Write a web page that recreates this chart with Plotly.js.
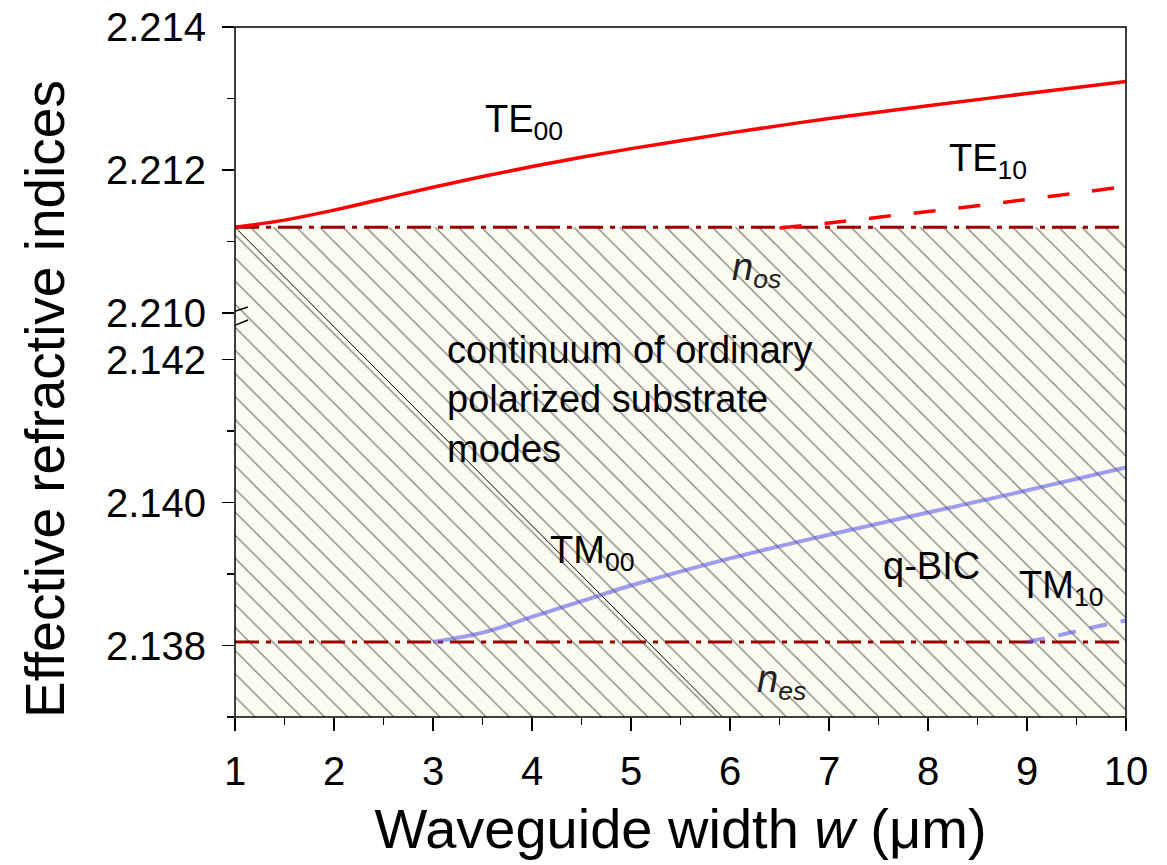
<!DOCTYPE html>
<html><head><meta charset="utf-8">
<script src="https://cdn.plot.ly/plotly-3.0.1.min.js"></script>
<style>html,body{margin:0;padding:0;background:#fff}#chart{width:1167px;height:865px}</style>
</head><body><div id="chart"></div>
<script>
// ---- data ----
const te00W = [1, 1.5, 2, 2.5, 3, 3.5, 4, 4.5, 5, 5.5, 6, 7, 8, 9, 10];
const te00N = [2.21120, 2.21130, 2.21144, 2.21160, 2.21176, 2.21191, 2.21205, 2.21218, 2.21230, 2.21241, 2.21252, 2.21272, 2.21290, 2.21307, 2.21324];
const te10W = [6.5, 7, 7.5, 8, 8.5, 9, 9.5, 10];
const te10N = [2.21119, 2.21126, 2.21134, 2.21142, 2.21150, 2.21159, 2.21168, 2.21177];
const tm00W = [3, 3.5, 4, 4.5, 5, 6, 7, 8, 9, 10];
const tm00N = [2.13805, 2.13818, 2.13840, 2.13862, 2.13884, 2.13922, 2.13955, 2.13986, 2.14017, 2.14049];
const tm10W = [9, 9.25, 9.5, 9.75, 10];
const tm10N = [2.13805, 2.13812, 2.13820, 2.13828, 2.13835];
const nOS = 2.2112;
const nES = 2.13805;
const bandW = [1, 10];
const lightW = [1, 5.92];
const lightN = [2.2112, 2.20436];
const topRange = [2.20989, 2.214];
const botRange = [2.137, 2.14254];
const xTickVals = [1, 2, 3, 4, 5, 6, 7, 8, 9, 10];
const yTopTickVals = [2.210, 2.212, 2.214];
const yTopTickText = ['2.210', '2.212', '2.214'];
const yTopMinor = [2.211, 2.213];
const yBotTickVals = [2.138, 2.140, 2.142];
const yBotTickText = ['2.138', '2.140', '2.142'];
const yBotMinor = [2.137, 2.139, 2.141];

// ---- layout helpers ----
const JOIN = 0.5739;
// full-height hidden axis that continues the upper scale down to the bottom of the frame
const fullRange = [topRange[1] - (topRange[1] - topRange[0]) / (1 - JOIN), topRange[1]];

// ---- styles ----
const FONT = 'Liberation Sans, Arial, sans-serif';
const hatch = {shape: '\\', bgcolor: '#fbfbf1', fgcolor: '#808080', size: 16.33, solidity: 0.08};
const subLine = {color: '#990000', width: 3, dash: '24px,7px,5px,7px'};
const red = '#ff0000';
const blue = 'rgba(80,80,230,0.55)';

const traces = [
  // continuum of substrate modes (below n_os), drawn once over the whole frame
  {x: bandW, y: [nOS, nOS], yaxis: 'y', mode: 'lines', line: {width: 0}, fill: 'tozeroy', fillcolor: '#fbfbf1', fillpattern: hatch, hoverinfo: 'skip'},
  {x: lightW, y: lightN, yaxis: 'y', mode: 'lines', line: {color: '#000', width: 1}},
  {x: bandW, y: [nOS, nOS], yaxis: 'y3', mode: 'lines', line: subLine, name: 'n_os'},
  {x: bandW, y: [nES, nES], yaxis: 'y2', mode: 'lines', line: subLine, name: 'n_es'},
  {x: te00W, y: te00N, yaxis: 'y3', mode: 'lines', line: {color: red, width: 3.5, shape: 'spline', smoothing: 1}, name: 'TE00'},
  {x: te10W, y: te10N, yaxis: 'y3', mode: 'lines', line: {color: red, width: 3.5, dash: '22px,23px', shape: 'spline'}, name: 'TE10'},
  {x: tm00W, y: tm00N, yaxis: 'y2', mode: 'lines', line: {color: blue, width: 4, shape: 'spline', smoothing: 1}, name: 'TM00'},
  {x: tm10W, y: tm10N, yaxis: 'y2', mode: 'lines', line: {color: blue, width: 4, dash: '18px,14px', shape: 'spline'}, name: 'TM10'}
];

const tickCommon = {ticks: 'outside', tickcolor: '#000', tickwidth: 1.5, showgrid: false, zeroline: false, showline: false, tickfont: {family: FONT, size: 40, color: '#000'}};

const annFont = {family: FONT, size: 38, color: '#000'};
const annotations = [
  {x: 3.5, y: 2.21267, xref: 'x', yref: 'y3', text: 'TE<sub>00</sub>', showarrow: false, xanchor: 'left', yanchor: 'middle', font: annFont},
  {x: 8.19, y: 2.21212, xref: 'x', yref: 'y3', text: 'TE<sub>10</sub>', showarrow: false, xanchor: 'left', yanchor: 'middle', font: annFont},
  {x: 6.0, y: 2.2106, xref: 'x', yref: 'y3', text: '<i>n</i><sub><i>os</i></sub>', showarrow: false, xanchor: 'left', yanchor: 'middle', font: {family: FONT, size: 38, color: '#222'}},
  {x: 3.12, y: 2.14144, xref: 'x', yref: 'y2', text: 'continuum of ordinary<br>polarized substrate<br>modes', showarrow: false, xanchor: 'left', yanchor: 'middle', align: 'left', font: annFont},
  {x: 4.16, y: 2.13930, xref: 'x', yref: 'y2', text: 'TM<sub>00</sub>', showarrow: false, xanchor: 'left', yanchor: 'middle', font: annFont},
  {x: 8.04, y: 2.13911, xref: 'x', yref: 'y2', text: 'q-BIC', showarrow: false, xanchor: 'center', yanchor: 'middle', font: annFont},
  {x: 8.9, y: 2.13880, xref: 'x', yref: 'y2', text: 'TM<sub>10</sub>', showarrow: false, xanchor: 'left', yanchor: 'middle', font: annFont},
  {x: 6.25, y: 2.13749, xref: 'x', yref: 'y2', text: '<i>n</i><sub><i>es</i></sub>', showarrow: false, xanchor: 'left', yanchor: 'middle', font: {family: FONT, size: 38, color: '#222'}},
  {x: -0.2132, y: 0.461, xref: 'paper', yref: 'paper', text: 'Effective refractive indices', textangle: -90, showarrow: false, xanchor: 'center', yanchor: 'middle', font: {family: FONT, size: 55, color: '#000'}}
];

const shapes = [
  {type: 'rect', xref: 'paper', yref: 'paper', x0: 0, x1: 1, y0: 0, y1: 1, line: {color: '#000', width: 1.5}, layer: 'above'},
  {type: 'line', xref: 'x', xsizemode: 'pixel', xanchor: 1, x0: -12, x1: 13, yref: 'paper', ysizemode: 'pixel', yanchor: JOIN, y0: 6, y1: 14, line: {color: '#000', width: 1.5}},
  {type: 'line', xref: 'x', xsizemode: 'pixel', xanchor: 1, x0: -12, x1: 13, yref: 'paper', ysizemode: 'pixel', yanchor: JOIN, y0: -9, y1: 1, line: {color: '#000', width: 1.5}}
];

const layout = {
  width: 1167, height: 865,
  margin: {l: 235, r: 41, t: 27, b: 148},
  paper_bgcolor: '#fff', plot_bgcolor: 'rgba(0,0,0,0)',
  showlegend: false,
  font: {family: FONT, color: '#000'},
  xaxis: Object.assign({}, tickCommon, {
    range: [1, 10], tickvals: xTickVals, ticklen: 13, anchor: 'y2', ticklabelstandoff: 6,
    minor: {dtick: 0.5, ticks: 'outside', ticklen: 7, tickwidth: 1.5, tickcolor: '#000', showgrid: false},
    title: {text: 'Waveguide width <i>w</i> (μm)', font: {family: FONT, size: 56, color: '#000'}, standoff: 16}
  }),
  yaxis: {domain: [0, 1], range: fullRange, visible: false, showgrid: false, zeroline: false, fixedrange: true},
  yaxis2: Object.assign({}, tickCommon, {
    domain: [0, JOIN], range: botRange, tickvals: yBotTickVals, ticktext: yBotTickText, ticklen: 12, ticklabelstandoff: 8, anchor: 'x',
    minor: {tickvals: yBotMinor, ticks: 'outside', ticklen: 7, tickwidth: 1.5, tickcolor: '#000', showgrid: false}
  }),
  yaxis3: Object.assign({}, tickCommon, {
    domain: [JOIN, 1], range: topRange, tickvals: yTopTickVals, ticktext: yTopTickText, ticklen: 12, ticklabelstandoff: 8, anchor: 'x',
    minor: {tickvals: yTopMinor, ticks: 'outside', ticklen: 7, tickwidth: 1.5, tickcolor: '#000', showgrid: false}
  }),
  annotations: annotations,
  shapes: shapes
};

Plotly.newPlot('chart', traces, layout, {displayModeBar: false, staticPlot: true});
</script>
</body></html>
